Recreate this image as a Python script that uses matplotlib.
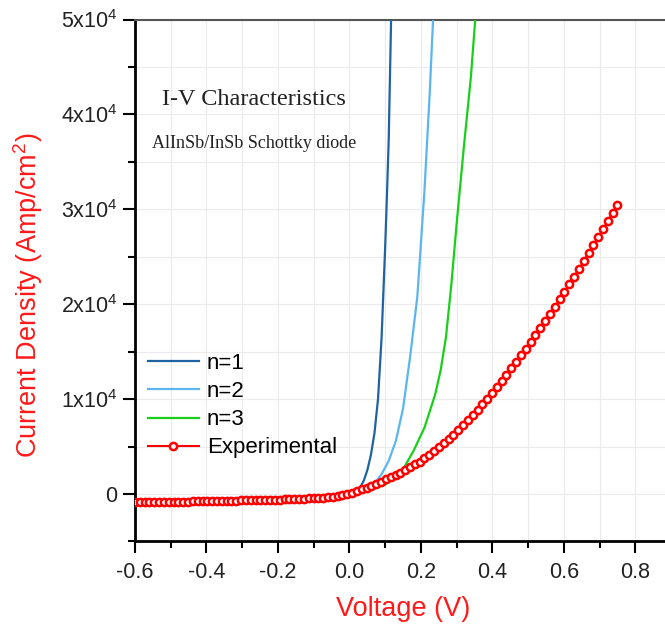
import numpy as np
import matplotlib
matplotlib.use("Agg")
import matplotlib.pyplot as plt
from matplotlib.ticker import MultipleLocator, FixedLocator

plt.rcParams["font.family"] = ["Liberation Sans", "DejaVu Sans"]
plt.rcParams["mathtext.fontset"] = "custom"
plt.rcParams["mathtext.rm"] = "Liberation Sans"
plt.rcParams["mathtext.it"] = "Liberation Sans:italic"

# measured sweep: -0.6 V .. 0.75 V, 101 points
v_exp = np.linspace(-0.6, 0.75, 101)
j_exp = [
    -860, -855, -850, -845, -840, -835, -828, -821, -814, -807,
    -800, -791, -782, -773, -764, -755, -744, -733, -722, -711,
    -700, -688, -676, -664, -652, -640, -628, -615, -602, -589,
    -576, -562, -547, -531, -513, -493, -470, -443, -411, -373,
    -328, -274, -208, -130, -40,
    140, 320, 495, 675, 885, 1100, 1315, 1535, 1780, 2020,
    2265, 2530, 2830, 3125, 3420, 3780, 4160, 4535, 4915, 5360,
    5805, 6255, 6725, 7250, 7780, 8305, 8875, 9470, 10060, 10655,
    11300, 11950, 12595, 13255, 13940, 14630, 15320, 16030, 16755, 17485,
    18215, 18975, 19745, 20515, 21290, 22100, 22910, 23720, 24540, 25380,
    26215, 27050, 27910, 28770, 29635, 30500,
]

# ideal diode curves for ideality factors n = 1, 2, 3
v_n1 = [0.0, 0.02, 0.03, 0.04, 0.05, 0.06, 0.07, 0.08, 0.09, 0.10, 0.105, 0.11, 0.1166]
j_n1 = [0, 300, 700, 1400, 2500, 4100, 6400, 10000, 16500, 26000, 31500, 37500, 50000]

v_n2 = [0.0, 0.03, 0.05, 0.07, 0.09, 0.11, 0.13, 0.15, 0.17, 0.19, 0.21, 0.225, 0.234]
j_n2 = [0, 250, 550, 1100, 2100, 3500, 5600, 9000, 14500, 20800, 32000, 42500, 50000]

v_n3 = [0.0, 0.05, 0.10, 0.13, 0.15, 0.18, 0.21, 0.24, 0.255, 0.27, 0.285, 0.30, 0.32, 0.34, 0.352]
j_n3 = [0, 300, 1000, 1800, 2600, 4600, 7000, 10500, 13000, 16500, 22000, 28500, 36500, 44000, 50000]

y_ticks = [0, 10000, 20000, 30000, 40000, 50000]
y_labels = ["0", r"$\mathregular{1x10^4}$", r"$\mathregular{2x10^4}$",
            r"$\mathregular{3x10^4}$", r"$\mathregular{4x10^4}$", r"$\mathregular{5x10^4}$"]

fig = plt.figure(figsize=(6.65, 6.3), dpi=100)
ax = fig.add_axes([0.203, 0.1405, 0.797, 0.8285])

ax.plot(v_n1, j_n1, color="#1f63a0", lw=1.6, label="n=1", zorder=3)
ax.plot(v_n2, j_n2, color="#5cb6ee", lw=1.6, label="n=2", zorder=3)
ax.plot(v_n3, j_n3, color="#19cf19", lw=1.6, label="n=3", zorder=3)
ax.plot(v_exp, j_exp, color="#ff0000", lw=1.5, marker="o", ms=5.2,
        mfc="white", mec="#ff0000", mew=1.8, label="Experimental", zorder=4)

ax.set_xlim(-0.6, 0.883)
ax.set_ylim(-5000, 50000)

ax.xaxis.set_major_locator(FixedLocator([-0.6, -0.4, -0.2, 0.0, 0.2, 0.4, 0.6, 0.8]))
ax.xaxis.set_minor_locator(MultipleLocator(0.1))
ax.set_xticklabels(["-0.6", "-0.4", "-0.2", "0.0", "0.2", "0.4", "0.6", "0.8"])
ax.set_yticks(y_ticks)
ax.set_yticklabels(y_labels)
ax.yaxis.set_minor_locator(MultipleLocator(5000))

ax.grid(True, which="both", color="#ebebeb", lw=0.8)
ax.set_axisbelow(True)

ax.tick_params(which="major", direction="out", length=8.5, width=1.5, colors="black")
ax.tick_params(which="minor", direction="out", length=5, width=1.5)
ax.tick_params(axis="x", labelcolor="#222222", labelsize=15.5, pad=6)
ax.tick_params(axis="y", labelcolor="#222222", labelsize=15.5, pad=4)

ax.spines["right"].set_visible(False)
ax.spines["left"].set_linewidth(2)
ax.spines["bottom"].set_linewidth(2)
ax.spines["top"].set_color("#555555")
ax.spines["top"].set_linewidth(1.5)

ax.set_xlabel("Voltage (V)", color="#ff1a1a", fontsize=19.5)
ax.set_ylabel(r"Current Density (Amp/cm$\mathregular{^2}$)", color="#ff1a1a",
              fontsize=19.5)
ax.xaxis.set_label_coords(0.506, -0.104)
ax.yaxis.set_label_coords(-0.169, 0.472)

ax.text(0.051, 0.846, "I-V Characteristics", transform=ax.transAxes,
        family="Liberation Serif", fontsize=17.5, color="#222222", va="center")
ax.text(0.032, 0.763, "AlInSb/InSb Schottky diode", transform=ax.transAxes,
        family="Liberation Serif", fontsize=13, color="#222222", va="center")

ax.legend(loc="upper left", bbox_to_anchor=(0.0075, 0.378), frameon=False,
          fontsize=16, handlelength=2.3, handletextpad=0.35,
          labelspacing=0.32, borderaxespad=0.0)

fig.savefig("out.png", dpi=100)
